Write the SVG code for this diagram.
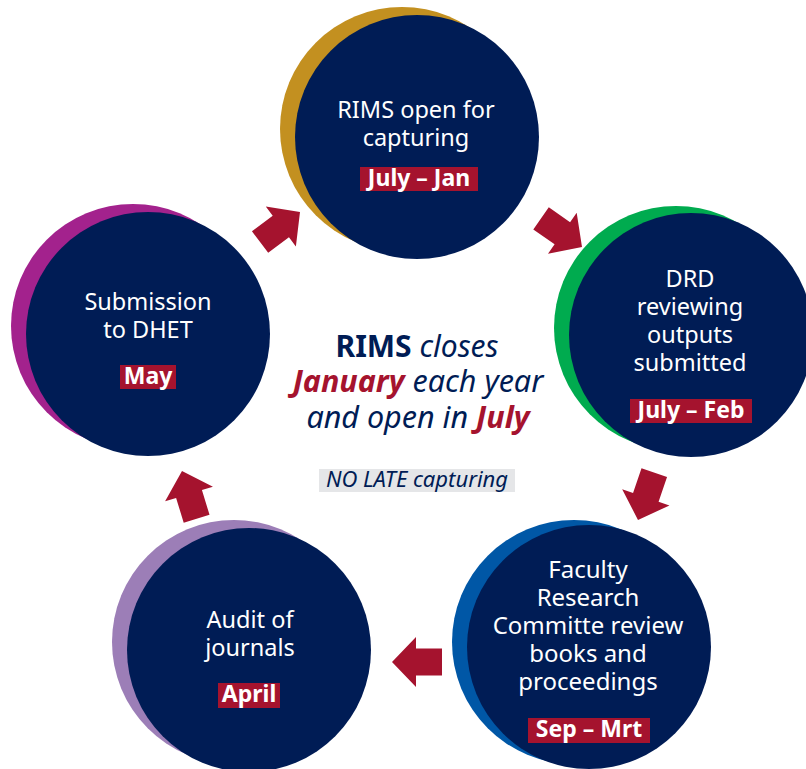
<svg xmlns="http://www.w3.org/2000/svg" width="806" height="769" viewBox="0 0 806 769">
<defs>
<style>
.navy{fill:#001c55}
.t{font-family:"Noto Sans","Open Sans",sans-serif;font-size:23.5px;fill:#ffffff;text-anchor:middle}
.lb{font-family:"Noto Sans","Open Sans",sans-serif;font-size:23px;font-weight:bold;fill:#ffffff;text-anchor:middle}
.box{fill:#a5132e}
.arrow{fill:#a5132e}
.c{font-family:"Noto Sans","Open Sans",sans-serif;font-size:30px;font-style:italic;fill:#001c55;text-anchor:middle}
.red{fill:#a5132e;font-weight:bold}
.b{font-weight:bold;font-style:normal}
</style>
<polygon id="arr" points="0,0 -24,-25 -24,-13.5 -50,-13.5 -50,13.5 -24,13.5 -24,25"/>
</defs>
<rect width="806" height="769" fill="#ffffff"/>

<g id="connectors">
<use href="#arr" class="arrow" transform="translate(300,212) rotate(-37)"/>
<use href="#arr" class="arrow" transform="translate(582,247) rotate(35)"/>
<use href="#arr" class="arrow" transform="translate(638,520) rotate(109)"/>
<use href="#arr" class="arrow" transform="translate(392,662) rotate(180)"/>
<use href="#arr" class="arrow" transform="translate(182,471) rotate(-107)"/>
</g>

<g id="node-rims-open">
<circle cx="402" cy="129" r="122" fill="#c39020"/>
<circle cx="417" cy="137" r="122" class="navy"/>
<text class="t" x="416" y="118">RIMS open for</text>
<text class="t" x="416" y="146">capturing</text>
<rect class="box" x="360" y="167" width="118" height="24"/>
<text class="lb" x="419" y="186">July – Jan</text>
</g>

<g id="node-drd">
<circle cx="676" cy="328" r="122" fill="#00ab4f"/>
<circle cx="691" cy="335" r="122" class="navy"/>
<text class="t" x="690" y="287">DRD</text>
<text class="t" x="690" y="315">reviewing</text>
<text class="t" x="690" y="343">outputs</text>
<text class="t" x="690" y="371">submitted</text>
<rect class="box" x="630" y="399" width="122" height="24"/>
<text class="lb" x="691" y="418">July – Feb</text>
</g>

<g id="node-faculty">
<circle cx="574" cy="642" r="122" fill="#0057a6"/>
<circle cx="589" cy="647" r="122" class="navy"/>
<text class="t" x="588" y="578" style="font-size:24px">Faculty</text>
<text class="t" x="588" y="606" style="font-size:24px">Research</text>
<text class="t" x="588" y="634" style="font-size:24px">Committe review</text>
<text class="t" x="588" y="662" style="font-size:24px">books and</text>
<text class="t" x="588" y="690" style="font-size:24px">proceedings</text>
<rect class="box" x="528" y="718" width="122" height="25"/>
<text class="lb" x="589" y="737">Sep – Mrt</text>
</g>

<g id="node-audit">
<circle cx="234" cy="642" r="122" fill="#9c7eb7"/>
<circle cx="249" cy="650" r="122" class="navy"/>
<text class="t" x="250" y="628">Audit of</text>
<text class="t" x="250" y="656">journals</text>
<rect class="box" x="218" y="683" width="62" height="25"/>
<text class="lb" x="249" y="702">April</text>
</g>

<g id="node-submission">
<circle cx="133" cy="326" r="122" fill="#a3228d"/>
<circle cx="148" cy="334" r="122" class="navy"/>
<text class="t" x="148" y="310">Submission</text>
<text class="t" x="148" y="338">to DHET</text>
<rect class="box" x="120" y="365" width="56" height="24"/>
<text class="lb" x="148" y="384">May</text>
</g>

<g id="center-note">
<text class="c" x="417" y="357"><tspan class="b">RIMS</tspan> closes</text>
<text class="c" x="418" y="392" style="font-size:30.5px"><tspan class="red">January</tspan> each year</text>
<text class="c" x="418" y="428" style="font-size:30.5px">and open in <tspan class="red">July</tspan></text>
<rect x="319" y="469" width="196" height="23" fill="#e5e6e8"/>
<text class="c" x="417" y="487" style="font-size:22px">NO LATE capturing</text>
</g>
</svg>
